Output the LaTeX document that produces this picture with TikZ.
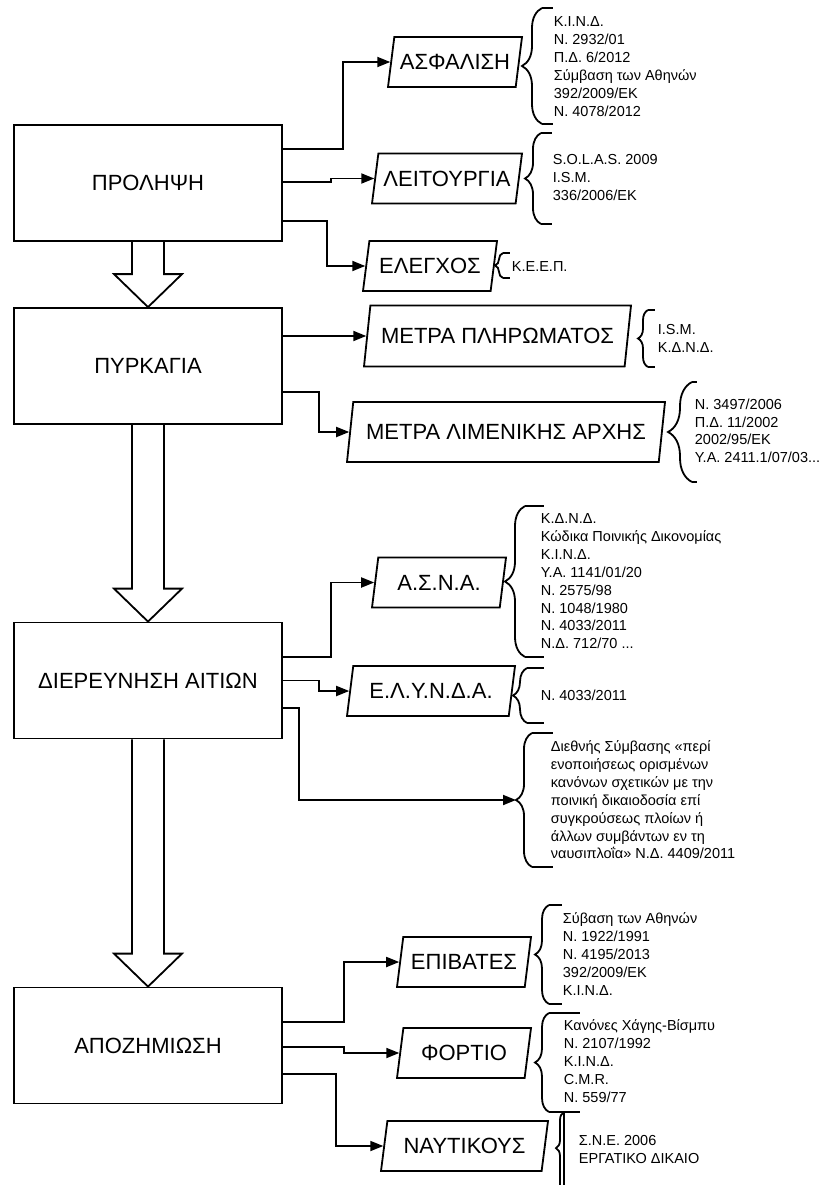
\documentclass[tikz,border=0pt]{standalone}
\usepackage{fontspec}
\setmainfont{Liberation Sans}
\usetikzlibrary{positioning,calc,arrows.meta,shapes.geometric,decorations.pathreplacing}
% x of brace, top, bottom, amplitude, aspect, x of the flat ends
\newcommand{\lawbrace}[6]{%
  \draw[decorate,decoration={brace,amplitude=#4pt,aspect=#5}] (#1,#3) -- (#1,#2);
  \draw (#1,#2) -- (#6,#2) (#1,#3) -- (#6,#3);}
\newcommand{\hollowarrow}[2]{%
  \draw ($(#1.south)+(-16,0)$) -- ($(#2.north)+(-16,-33)$) -- ++(-18,0) -- (#2.north)
    -- ($(#2.north)+(34,-33)$) -- ++(-18,0) -- ($(#1.south)+(16,0)$);}

\begin{document}
\begin{tikzpicture}[x=1pt, y=-1pt, line width=1.8pt,
  box/.style={draw, minimum width=268pt, minimum height=116pt, font=\fontsize{22}{26}\selectfont},
  para/.style={draw, trapezium, trapezium left angle=74, trapezium right angle=106,
    trapezium stretches body, minimum height=50pt, inner xsep=1pt, font=\fontsize{22}{26}\selectfont},
  conn/.style={-{Triangle[length=13pt,width=10pt]}},
  law/.style={anchor=north west, align=left, inner sep=0pt, font=\fontsize{14.5}{17.9}\selectfont}]
 \useasboundingbox (0,0) rectangle (825,1185);

 % main chain
 \node[box] (prol) at (148,183) {ΠΡΟΛΗΨΗ};
 \node[box] (pyr) at (148,366) {ΠΥΡΚΑΓΙΑ};
 \node[box] (dier) at (148,680.5) {ΔΙΕΡΕΥΝΗΣΗ ΑΙΤΙΩΝ};
 \node[box] (apoz) at (148,1045.5) {ΑΠΟΖΗΜΙΩΣΗ};
 \hollowarrow{prol}{pyr}
 \hollowarrow{pyr}{dier}
 \hollowarrow{dier}{apoz}

 % branches
 \node[para, minimum width=134pt] (asf) at (455,62) {ΑΣΦΑΛΙΣΗ};
 \node[para, minimum width=150pt] (leit) at (447,178.5) {ΛΕΙΤΟΥΡΓΙΑ};
 \node[para, minimum width=134pt] (eleg) at (430,266) {ΕΛΕΓΧΟΣ};
 \node[para, minimum width=267pt, minimum height=61pt] (metpl) at (497.5,336) {ΜΕΤΡΑ ΠΛΗΡΩΜΑΤΟΣ};
 \node[para, minimum width=318pt, minimum height=60pt] (metlim) at (506,432) {ΜΕΤΡΑ ΛΙΜΕΝΙΚΗΣ ΑΡΧΗΣ};
 \node[para, minimum width=134pt] (asna) at (439,582.5) {Α.Σ.Ν.Α.};
 \node[para, minimum width=168pt] (elynda) at (431,691) {Ε.Λ.Υ.Ν.Δ.Α.};
 \node[para, minimum width=134pt] (epib) at (464,962) {ΕΠΙΒΑΤΕΣ};
 \node[para, minimum width=134pt] (fort) at (464,1053) {ΦΟΡΤΙΟ};
 \node[para, minimum width=167pt] (naut) at (464.5,1146) {ΝΑΥΤΙΚΟΥΣ};
 \coordinate (convtip) at (516,800);

 \draw[conn] ([yshift=34pt]prol.east) -- ++(60,0) |- (asf.west);
 \draw[conn] ([yshift=1pt]prol.east) -- ++(48,0) |- (leit.west);
 \draw[conn] ([yshift=-38pt]prol.east) -- ++(44,0) |- (eleg.west);
 \draw[conn] (pyr.east |- metpl.west) -- (metpl.west);
 \draw[conn] ([yshift=-26pt]pyr.east) -- ++(36,0) |- (metlim.west);
 \draw[conn] ([yshift=23.5pt]dier.east) -- ++(48,0) |- (asna.west);
 \draw[conn] (dier.east) -- ++(36,0) |- (elynda.west);
 \draw[conn] ([yshift=-27.5pt]dier.east) -- ++(16,0) |- (convtip);
 \draw[conn] ([yshift=23.5pt]apoz.east) -- ++(61,0) |- (epib.west);
 \draw[conn] ([yshift=-1.5pt]apoz.east) -- ++(61,0) |- (fort.west);
 \draw[conn] ([yshift=-28.5pt]apoz.east) -- ++(53,0) |- (naut.west);

 % laws
 \lawbrace{542}{8}{124}{20}{0.5}{553}
 \node[law] (asf-law) at (553,15.7) {Κ.Ι.Ν.Δ.\\Ν. 2932/01\\Π.Δ. 6/2012\\Σύμβαση των Αθηνών\\392/2009/ΕΚ\\Ν. 4078/2012};
 \lawbrace{541}{133}{224}{16}{0.5}{552}
 \node[law] (leit-law) at (552,153.7) {S.O.L.A.S. 2009\\I.S.M.\\336/2006/ΕΚ};
 \lawbrace{503}{253}{278}{8}{0.5}{510}
 \node[law] (eleg-law) at (511,260.7) {Κ.Ε.Ε.Π.};
 \lawbrace{648}{310}{367}{10}{0.5}{655}
 \node[law] (metpl-law) at (657,323.7) {I.S.M.\\Κ.Δ.Ν.Δ.};
 \lawbrace{692}{382}{482}{24}{0.5}{697}
 \node[law] (metlim-law) at (694,397.7) {Ν. 3497/2006\\Π.Δ. 11/2002\\2002/95/ΕΚ\\Υ.Α. 2411.1/07/03...};
 \lawbrace{525}{506}{657}{20}{0.5}{544}
 \node[law] (asna-law) at (540,512.7) {Κ.Δ.Ν.Δ.\\Κώδικα Ποινικής Δικονομίας\\Κ.Ι.Ν.Δ.\\Υ.Α. 1141/01/20\\Ν. 2575/98\\Ν. 1048/1980\\Ν. 4033/2011\\Ν.Δ. 712/70 ...};
 \lawbrace{527}{668}{723}{14}{0.5}{544}
 \node[law] (elynda-law) at (540,688.7) {Ν. 4033/2011};
 \lawbrace{532}{733}{867}{16}{0.5}{553}
 \node[law] (conv-law) at (550,739.7) {Διεθνής Σύμβασης «περί\\ενοποιήσεως ορισμένων\\κανόνων σχετικών με την\\ποινική δικαιοδοσία επί\\συγκρούσεως πλοίων ή\\άλλων συμβάντων εν τη\\ναυσιπλοΐα» Ν.Δ. 4409/2011};
 \lawbrace{549}{905}{1004}{14}{0.5}{562}
 \node[law] (epib-law) at (562,911.7) {Σύβαση των Αθηνών\\Ν. 1922/1991\\Ν. 4195/2013\\392/2009/ΕΚ\\Κ.Ι.Ν.Δ.};
 \lawbrace{549}{1013}{1112}{14}{0.5}{580}
 \node[law] (fort-law) at (563,1018.7) {Κανόνες Χάγης-Βίσμπυ\\Ν. 2107/1992\\Κ.Ι.Ν.Δ.\\C.M.R.\\Ν. 559/77};
 \lawbrace{564}{1112}{1200}{8}{0.59}{580}
 \draw (564,1112) -- (564,1200);
 \node[law] (naut-law) at (578,1134.7) {Σ.Ν.Ε. 2006\\ΕΡΓΑΤΙΚΟ ΔΙΚΑΙΟ};
\end{tikzpicture}
\end{document}
